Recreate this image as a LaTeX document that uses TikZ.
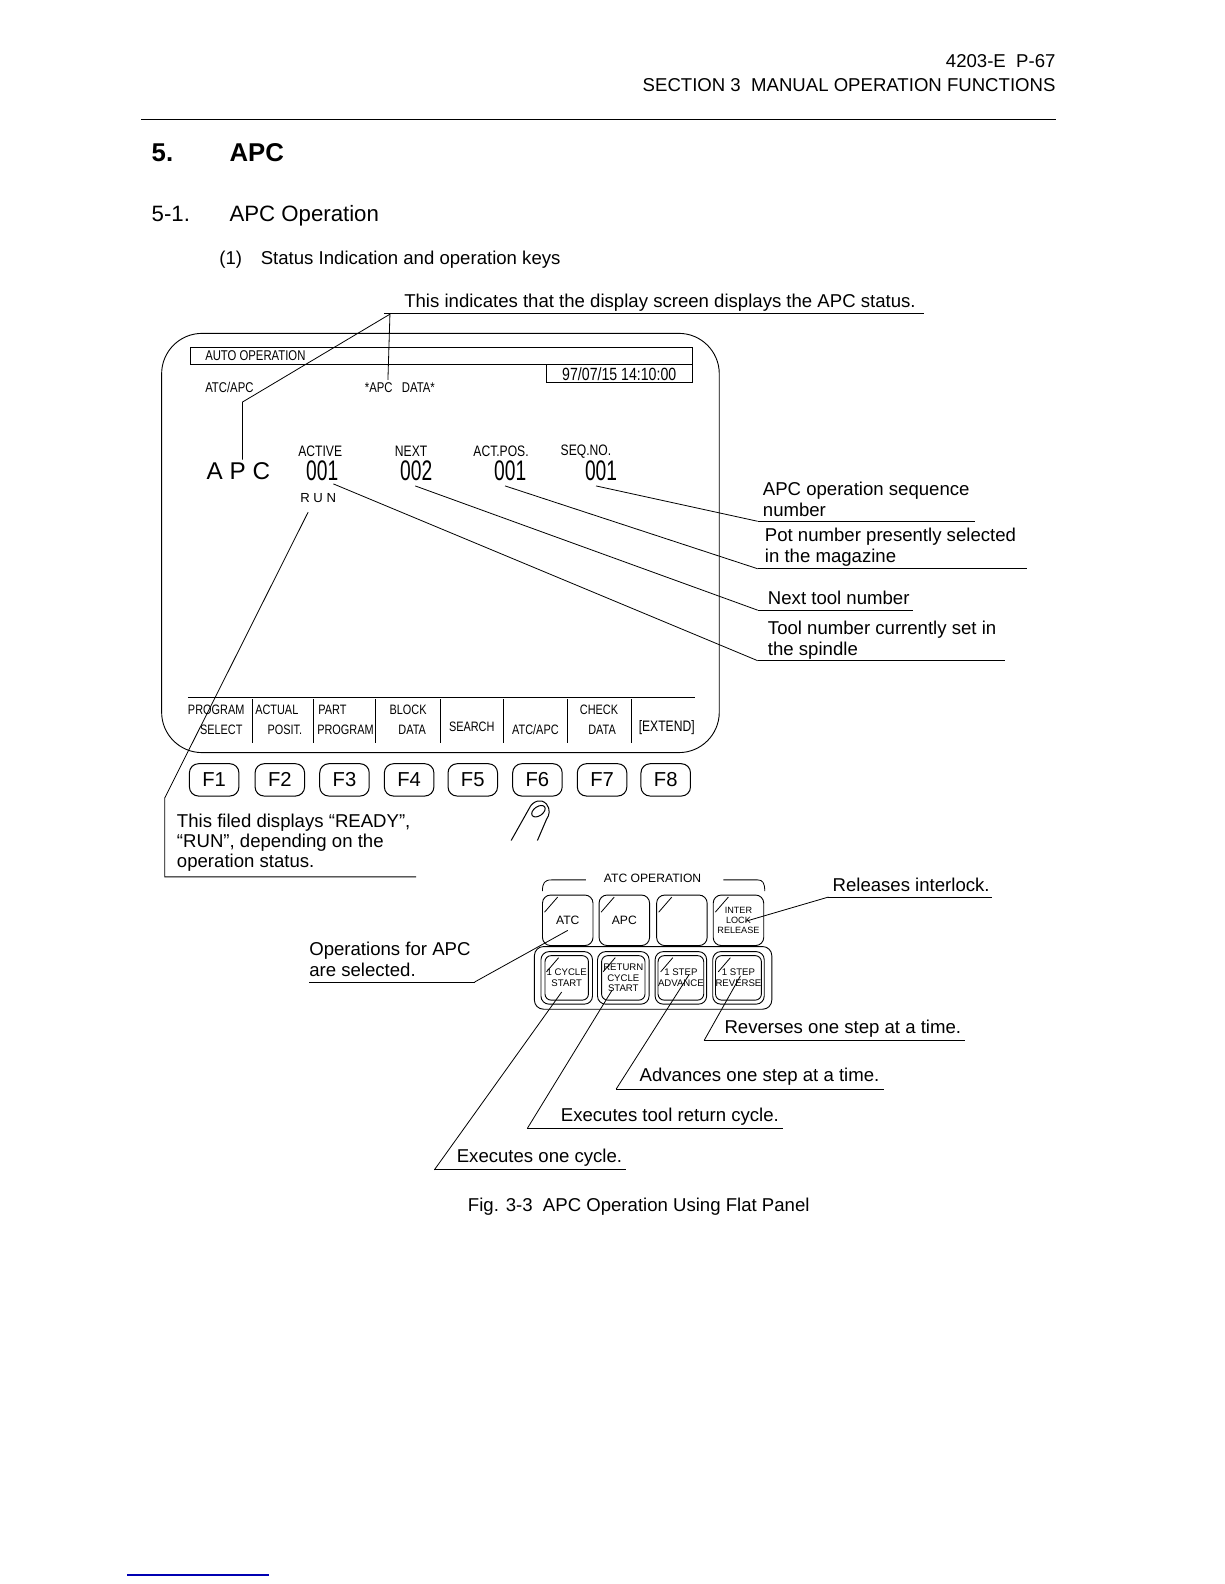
\documentclass[tikz,border=0pt]{standalone}
\usepackage{fontspec}
\setmainfont{Liberation Sans}
\newfontfamily\crt[FakeStretch=0.8]{Liberation Sans}
\newfontfamily\crtn[FakeStretch=0.68]{Liberation Sans}
\tikzset{
  txt/.style={inner sep=0pt, anchor=base west, font=\fontsize{18.4}{22}\selectfont},
  lead/.style={line width=0.8pt},
  scr/.style={inner sep=0pt, font=\crt\fontsize{14}{16}\selectfont},
  lbl/.style={inner sep=0pt, font=\crt\fontsize{15}{17}\selectfont},
  val/.style={inner sep=0pt, font=\crtn\fontsize{28}{30}\selectfont},
  soft/.style={inner sep=0pt, font=\crt\fontsize{13.5}{15}\selectfont},
  fkey/.style={draw, line width=1pt, rounded corners=9pt, minimum width=49pt, minimum height=32pt, inner sep=0pt, font=\fontsize{20}{22}\selectfont},
  pkey/.style={draw, line width=0.9pt, rounded corners=8pt, minimum width=50pt, minimum height=50pt, inner sep=0pt, align=center},
  bkey/.style={draw, line width=0.9pt, rounded corners=8pt, minimum width=51pt, minimum height=52pt, inner sep=0pt},
  ikey/.style={draw, line width=0.9pt, rounded corners=6pt, minimum width=43pt, minimum height=44pt, inner sep=0pt, align=center, font=\fontsize{9.5}{10.5}\selectfont},
}
\begin{document}
\begin{tikzpicture}[x=1pt,y=-1pt]
\useasboundingbox (0,0) rectangle (1212,1568);
\fill[white] (0,0) rectangle (1212,1568);

% header
\node[txt, anchor=base east] (pg) at (1045,67) {4203-E\ \ P-67};
\node[txt, anchor=base east] (sec) at (1045,91) {SECTION 3\ \ MANUAL OPERATION FUNCTIONS};
\draw[line width=1.2pt] (140,118) -- (1045,118);

% headings
\node[inner sep=0pt, anchor=base west, font=\bfseries\fontsize{25.5}{30}\selectfont] (h5) at (150,160) {5.};
\node[inner sep=0pt, anchor=base west, font=\bfseries\fontsize{25.5}{30}\selectfont] (h5t) at (227,160) {APC};
\node[inner sep=0pt, anchor=base west, font=\fontsize{22}{26}\selectfont] (h51) at (150,219) {5-1.};
\node[inner sep=0pt, anchor=base west, font=\fontsize{22}{26}\selectfont] (h51t) at (227,219) {APC Operation};
\node[txt] (h1) at (217,262) {(1)};
\node[txt] (h1t) at (258,262) {Status Indication and operation keys};

\node[txt] (ind) at (400,304) {This indicates that the display screen displays the APC status.};
\draw[lead] (380,310) -- (915,310);

% screen
\draw[line width=0.9pt, rounded corners=40pt] (160,330) rectangle (712,745);
\draw[line width=0.8pt] (188,344) rectangle (685,361);
\draw[line width=0.8pt] (541,361) rectangle (685,379);
\node[scr, anchor=west] (ao) at (203,352.5) {AUTO OPERATION};
\node[inner sep=0pt, font=\crt\fontsize{17.5}{19}\selectfont] (date) at (613,370) {97/07/15 14:10:00};
\node[scr, anchor=west] (atcapc) at (203,384) {ATC/APC};
\node[scr, anchor=west] (apcdata) at (361,384) {*APC\ \ \ DATA*};

\node[lbl] (lact) at (317,447) {ACTIVE};
\node[lbl] (lnext) at (407,447) {NEXT};
\node[lbl] (lpos) at (496,447) {ACT.POS.};
\node[lbl] (lseq) at (580,447) {SEQ.NO.};
\node[val] (vact) at (319,466) {001};
\node[val] (vnext) at (412,466) {002};
\node[val] (vpos) at (505,466) {001};
\node[val] (vseq) at (595,466) {001};
\node[inner sep=0pt, font=\fontsize{24}{26}\selectfont] (apc) at (236,466) {A P C};
\node[inner sep=0pt, font=\fontsize{13}{15}\selectfont] (run) at (315,493) {R U N};

% leaders from indication text
\coordinate (indL) at (386,311);
\coordinate (apcK) at (240,398);
\draw[lead] (indL) -- (apcK) -- (240,455);
\draw[lead] (indL) -- (384,376);

% right annotations
\node[txt] (seqA) at (755,490) {APC operation sequence};
\node[txt] (seqB) at (755,511) {number};
\draw[lead] (750,516) -- (965,516);
\node[txt] (potA) at (757,536) {Pot number presently selected};
\node[txt] (potB) at (757,557) {in the magazine};
\draw[lead] (750,563) -- (1017,563);
\node[txt] (nxt) at (760,598) {Next tool number};
\draw[lead] (750,604) -- (904,604);
\node[txt] (tlA) at (760,628) {Tool number currently set in};
\node[txt] (tlB) at (760,649) {the spindle};
\draw[lead] (750,654) -- (995,654);

\draw[lead] (590,481) -- (750,516);
\draw[lead] (500,481) -- (750,563);
\draw[lead] (411,481) -- (750,604);
\draw[lead] (330,479) -- (750,654);

% soft key labels
\draw[line width=0.8pt] (186,690) -- (688,690);
\foreach \x in {250,310,372,436,498,562,625} \draw[line width=0.6pt] (\x,692) -- (\x,735);
\node[soft] (s1a) at (214,703) {PROGRAM};
\node[soft] (s1b) at (219,722) {SELECT};
\node[soft] (s2a) at (274,703) {ACTUAL};
\node[soft] (s2b) at (282,722) {POSIT.};
\node[soft, anchor=west] (s3a) at (315,703) {PART};
\node[soft] (s3b) at (342,722) {PROGRAM};
\node[soft] (s4a) at (404,703) {BLOCK};
\node[soft] (s4b) at (408,722) {DATA};
\node[soft] (s5) at (467,719) {SEARCH};
\node[soft] (s6) at (530,722) {ATC/APC};
\node[soft] (s7a) at (593,703) {CHECK};
\node[soft] (s7b) at (596,722) {DATA};
\node[soft, font=\crt\fontsize{15}{17}\selectfont] (s8) at (660,720) {[EXTEND]};

% function keys
\node[fkey] (f1) at (212,772) {F1};
\node[fkey] (f2) at (277,772) {F2};
\node[fkey] (f3) at (341,772) {F3};
\node[fkey] (f4) at (405,772) {F4};
\node[fkey] (f5) at (468,772) {F5};
\node[fkey] (f6) at (532,772) {F6};
\node[fkey] (f7) at (596,772) {F7};
\node[fkey] (f8) at (659,772) {F8};

% finger sketch
\draw[line width=1pt] (506,832) -- (524,800) .. controls (527,793) and (536,790) .. (541,796) .. controls (545,801) and (544,807) .. (541,811) -- (532,832);
\draw[line width=1pt, rotate around={35:(533,803)}] (533,803) ellipse [x radius=7.5pt, y radius=4.5pt];

% RUN leader and status text
\coordinate (runK) at (163,790);
\draw[lead] (305,507) -- (runK) -- (163,868) -- (412,868);
\node[txt] (stA) at (175,819) {This filed displays “READY”,};
\node[txt] (stB) at (175,839) {“RUN”, depending on the};
\node[txt] (stC) at (175,859) {operation status.};

% ATC operation panel
\node[inner sep=0pt, font=\fontsize{12}{14}\selectfont] (atcop) at (646,869) {ATC OPERATION};
\draw[line width=0.8pt] (537,882) .. controls (537,874) and (539,871) .. (546,871) -- (580,871);
\draw[line width=0.8pt] (716,871) -- (750,871) .. controls (755,871) and (757,874) .. (757,882);

\draw[line width=0.9pt, rounded corners=9pt] (529,937) rectangle (764,999);

\node[pkey, font=\fontsize{12}{14}\selectfont] (katc) at (562,911) {ATC};
\node[pkey, font=\fontsize{12}{14}\selectfont] (kapc) at (618,911) {APC};
\node[pkey] (kblank) at (675,911) {};
\node[pkey, font=\fontsize{9}{10}\selectfont] (kint) at (731,911) {INTER\\LOCK\\RELEASE};

\node[bkey] (b1) at (561,968) {};
\node[bkey] (b2) at (617,968) {};
\node[bkey] (b3) at (674,968) {};
\node[bkey] (b4) at (731,968) {};
\node[ikey] (i1) at (561,968) {1 CYCLE\\START};
\node[ikey] (i2) at (617,968) {RETURN\\CYCLE\\START};
\node[ikey] (i3) at (674,968) {1 STEP\\ADVANCE};
\node[ikey] (i4) at (731,968) {1 STEP\\REVERSE};

\foreach \cx in {562,618,675,731} \draw[line width=0.8pt] (\cx-23,911-8) -- (\cx-10,911-23);
\foreach \cx in {561,617,674,731} \draw[line width=0.8pt] (\cx-20,968-6) -- (\cx-8,968-20);

% panel leaders
\node[txt] (rel) at (824,882) {Releases interlock.};
\draw[lead] (820,888) -- (982,888);
\draw[lead] (820,888) -- (738,912);

\node[txt] (opA) at (306,946) {Operations for APC};
\node[txt] (opB) at (306,967) {are selected.};
\draw[lead] (306,972) -- (470,972);
\draw[lead] (470,972) -- (562,921);

\node[txt] (rev) at (717,1023) {Reverses one step at a time.};
\draw[lead] (697,1030) -- (955,1030);
\draw[lead] (697,1030) -- (733,966);

\node[txt] (adv) at (633,1071) {Advances one step at a time.};
\draw[lead] (610,1078) -- (875,1078);
\draw[lead] (610,1078) -- (682,965);

\node[txt] (ret) at (555,1110) {Executes tool return cycle.};
\draw[lead] (522,1117) -- (775,1117);
\draw[lead] (522,1117) -- (606,980);

\node[txt] (one) at (452,1151) {Executes one cycle.};
\draw[lead] (430,1158) -- (620,1158);
\draw[lead] (430,1158) -- (556,982);

% caption
\node[txt] (cap) at (463,1199) {Fig. 3-3\ \ APC Operation Using Flat Panel};

\draw[blue!70!black, line width=1.2pt] (126,1559) -- (266,1559);
\end{tikzpicture}
\end{document}
